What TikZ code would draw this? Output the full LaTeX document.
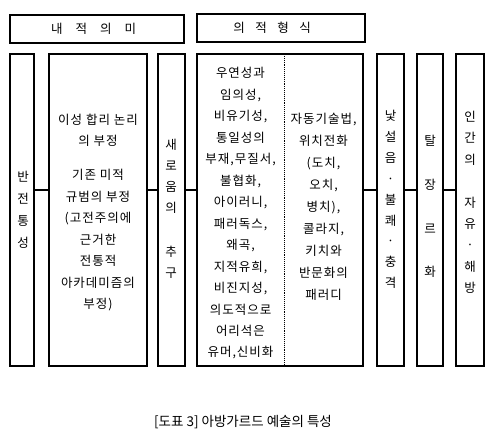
\documentclass[tikz,border=0pt]{standalone}
\usepackage{fontspec}
\newfontfamily\kr[LetterSpace=8]{Noto Sans CJK KR}
\newfontfamily\krcap{Noto Sans CJK KR}
\tikzset{
  box/.style={draw, line width=1.2pt, inner sep=0pt, outer sep=0pt},
  link/.style={line width=1.2pt},
  txt/.style={align=center, inner sep=0pt, font=\kr\fontsize{12.5}{21.5}\selectfont},
}
\begin{document}
\begin{tikzpicture}[x=1pt,y=-1pt]
\useasboundingbox (0,0) rectangle (494,436);
% header boxes
\node[box, minimum width=174, minimum height=28] (h1) at (97,29) {};
\node[box, minimum width=168, minimum height=28] (h2) at (281,28) {};
\node[font=\krcap\fontsize{12.5}{14}\selectfont] (h1t) at (93.5,29) {내\hspace{13pt}적\hspace{13pt}의\hspace{13pt}미};
\node[font=\krcap\fontsize{12.5}{14}\selectfont] (h2t) at (272,28) {의\hspace{10.5pt}적\hspace{10.5pt}형\hspace{10.5pt}식};
% column boxes
\node[box, minimum width=24,  minimum height=312] (b1) at (22,210) {};
\node[box, minimum width=98,  minimum height=312] (b2) at (98,210) {};
\node[box, minimum width=27,  minimum height=312] (b3) at (171.5,210) {};
\node[box, minimum width=166, minimum height=312] (b4) at (280,210) {};
\node[box, minimum width=27,  minimum height=312] (b5) at (390.5,210) {};
\node[box, minimum width=26,  minimum height=312] (b6) at (430,210) {};
\node[box, minimum width=28,  minimum height=312] (b7) at (470,210) {};
% dotted divider
\coordinate (dv) at (284,0);
\draw[densely dotted, line width=0.9pt] (b4.north -| dv) -- (b4.south -| dv);
% connectors
\coordinate (yl) at (0,190);
\draw[link] (b1.east |- yl) -- (b2.west |- yl);
\draw[link] (b2.east |- yl) -- (b3.west |- yl);
\draw[link] (b3.east |- yl) -- (b4.west |- yl);
\draw[link] (b4.east |- yl) -- (b5.west |- yl);
\draw[link] (b5.east |- yl) -- (b6.west |- yl);
\draw[link] (b6.east |- yl) -- (b7.west |- yl);
% texts
\node[txt, font=\kr\fontsize{12.5}{22}\selectfont] (t1) at (23,210) {반\\전\\통\\성};
\node[txt] (t2) at (98,212.5) {이성 합리 논리\\의 부정\\[12.5pt]기존 미적\\규범의 부정\\(고전주의에\\근거한\\전통적\\아카데미즘의\\부정)};
\node[txt, font=\kr\fontsize{12.5}{21}\selectfont] (t3) at (171,209) {새\\로\\움\\의\\[23pt]추\\구};
\node[txt, font=\kr\fontsize{12.5}{21.46}\selectfont] (t4a) at (240.5,213.5) {우연성과\\임의성,\\비유기성,\\통일성의\\부재,무질서,\\불협화,\\아이러니,\\패러독스,\\왜곡,\\지적유희,\\비진지성,\\의도적으로\\어리석은\\유머,신비화};
\node[txt, font=\kr\fontsize{12.5}{22}\selectfont] (t4b) at (323.5,207) {자동기술법,\\위치전화\\(도치,\\오치,\\병치),\\콜라지,\\키치와\\반문화의\\패러디};
\node[txt, font=\kr\fontsize{12.5}{20.9}\selectfont] (t5) at (390.5,199.5) {낯\\설\\음\\·\\불\\쾌\\·\\충\\격};
\node[txt, font=\kr\fontsize{12.5}{43.7}\selectfont] (t6) at (430,206.5) {탈\\장\\르\\화};
\node[txt, font=\kr\fontsize{12.5}{21.4}\selectfont] (t7) at (470,202.5) {인\\간\\의\\[21.4pt]자\\유\\·\\해\\방};
% caption
\node[font=\krcap\fontsize{13.5}{16}\selectfont] (cap) at (243,422) {[도표 3] 아방가르드 예술의 특성};
\end{tikzpicture}
\end{document}
